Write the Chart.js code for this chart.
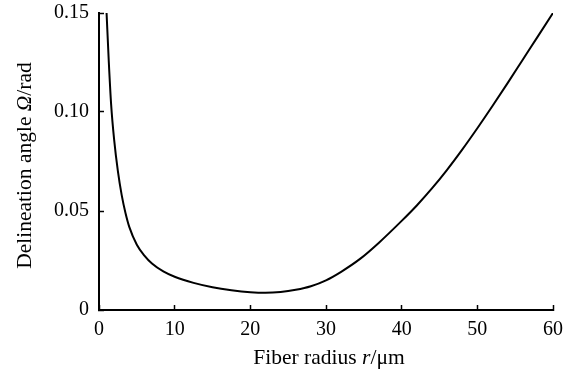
<!DOCTYPE html>
<html>
<head>
<meta charset="utf-8">
<script src="https://cdn.jsdelivr.net/npm/chart.js@4"></script>
<style>
  html, body { margin: 0; padding: 0; background: #fff; }
  #wrap { width: 585px; height: 370px; }
</style>
</head>
<body>
<div id="wrap"><canvas id="myChart" width="585" height="370"></canvas></div>
<script>
// fiber radius r (um) and delineation angle (rad)
const radius = [1.0, 1.3, 1.6, 2.0, 2.5, 3.0, 3.5, 4.0, 5.0, 6.0, 7.0, 8.5, 10, 12.5, 15, 17.5, 20, 22, 24, 26, 28, 30, 32, 34.5, 37, 40, 42, 44, 46, 48, 50, 52, 54, 56, 58, 60];
const angle = [0.150, 0.125, 0.104, 0.086, 0.070, 0.058, 0.049, 0.042, 0.033, 0.0275, 0.0235, 0.0195, 0.0168, 0.0137, 0.0115, 0.0100, 0.0090, 0.0087, 0.0091, 0.0102, 0.0120, 0.0150, 0.0193, 0.0258, 0.0340, 0.0450, 0.0528, 0.0614, 0.0708, 0.0810, 0.0918, 0.1030, 0.1146, 0.1264, 0.1382, 0.1500];
const xTicks = [0, 10, 20, 30, 40, 50, 60];
const yTicks = [0, 0.05, 0.10, 0.15];

const FONT = '"Liberation Serif", "Times New Roman", serif';

// axis titles with italic symbols
const axisTitles = {
  id: 'axisTitles',
  afterDraw(chart) {
    const ctx = chart.ctx;
    const area = chart.chartArea;
    const drawParts = (parts, cx, cy) => {
      let total = 0;
      parts.forEach(p => {
        ctx.font = (p[1] ? 'italic ' : '') + '21.5px ' + FONT;
        total += ctx.measureText(p[0]).width;
      });
      let x = cx - total / 2;
      parts.forEach(p => {
        ctx.font = (p[1] ? 'italic ' : '') + '21.5px ' + FONT;
        ctx.fillText(p[0], x, cy);
        x += ctx.measureText(p[0]).width;
      });
    };
    ctx.save();
    ctx.fillStyle = '#000';
    ctx.textAlign = 'left';
    ctx.textBaseline = 'alphabetic';
    drawParts([['Fiber radius ', false], ['r', true], ['/\u03bcm', false]], (area.left + area.right) / 2 + 3, 364);
    ctx.translate(31, (area.top + area.bottom) / 2 + 4);
    ctx.rotate(-Math.PI / 2);
    drawParts([['Delineation angle ', false], ['\u03a9', true], ['/rad', false]], 0, 0);
    ctx.restore();
  }
};

const data = {
  datasets: [{
    data: radius.map((r, i) => ({ x: r, y: angle[i] })),
    borderColor: '#000',
    borderWidth: 2,
    pointRadius: 0,
    fill: false,
    cubicInterpolationMode: 'monotone'
  }]
};

const config = {
  type: 'line',
  data: data,
  options: {
    responsive: false,
    animation: false,
    layout: { padding: { left: 0, right: 32, top: 13, bottom: 0 } },
    plugins: { legend: { display: false }, tooltip: { enabled: false } },
    scales: {
      x: {
        type: 'linear',
        min: 0,
        max: 60,
        afterFit: s => { s.height = 60; s.paddingLeft = 0; s.paddingRight = 0; },
        afterBuildTicks: s => { s.ticks = xTicks.map(v => ({ value: v })); },
        border: { display: true, color: '#000', width: 2 },
        grid: { drawOnChartArea: false, tickLength: -5, tickColor: '#000', tickWidth: 1.5 },
        ticks: { color: '#000', padding: 13, maxRotation: 0, font: { family: FONT, size: 20 } }
      },
      y: {
        min: 0,
        max: 0.15,
        afterFit: s => { s.width = 99; s.paddingTop = 0; s.paddingBottom = 0; },
        afterBuildTicks: s => { s.ticks = yTicks.map(v => ({ value: v })); },
        border: { display: true, color: '#000', width: 2 },
        grid: { drawOnChartArea: false, tickLength: -5, tickColor: '#000', tickWidth: 1.5 },
        ticks: {
          color: '#000',
          padding: 15,
          font: { family: FONT, size: 20 },
          callback: v => v === 0 ? '0' : v.toFixed(2)
        }
      }
    }
  },
  plugins: [axisTitles]
};

const myChart = new Chart(document.getElementById('myChart'), config);
</script>
</body>
</html>
